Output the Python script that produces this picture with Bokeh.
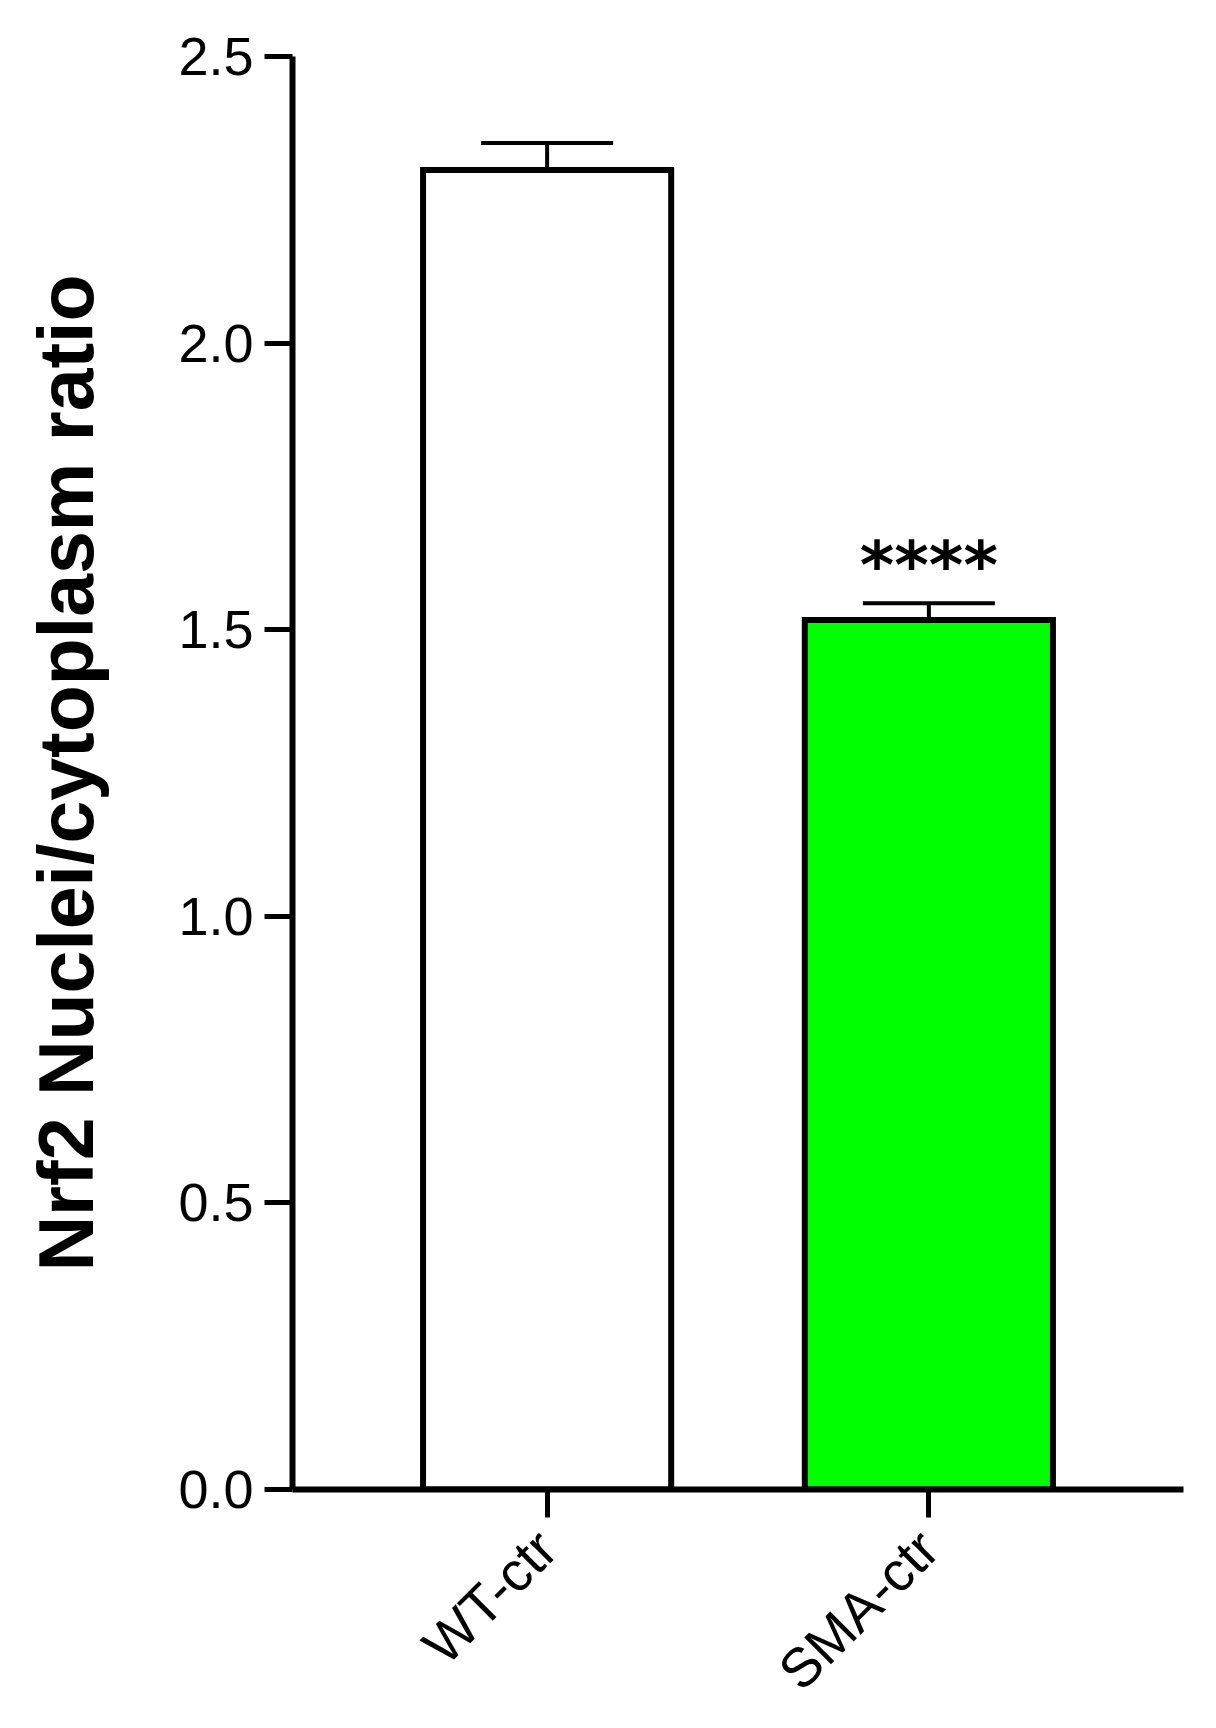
import math
from bokeh.plotting import figure
from bokeh.models import (ColumnDataSource, FactorRange, Range1d, FixedTicker,
                          Whisker, TeeHead, PrintfTickFormatter)
from bokeh.core.properties import value
from bokeh.embed import file_html
from bokeh.resources import INLINE

# ---- data ----
categories = ["WT-ctr", "SMA-ctr"]
means = [2.302, 1.517]
errors = [0.047, 0.029]
bar_colors = ["#FFFFFF", "#00FF00"]
significance = ["", "****"]
y_ticks = [0.0, 0.5, 1.0, 1.5, 2.0, 2.5]
y_label = "Nrf2 Nuclei/cytoplasm ratio"

upper = [m + e for m, e in zip(means, errors)]
star_offset = 0.066
star_y = [u + star_offset for u in upper]

src = ColumnDataSource(dict(cat=categories, mean=means, upper=upper,
                            color=bar_colors, sig=significance, sy=star_y))

p = figure(width=1200, height=1728,
           x_range=FactorRange(*categories, range_padding=0.167,
                               range_padding_units="absolute"),
           y_range=Range1d(0, 2.5),
           output_backend="svg", toolbar_location=None,
           min_border_left=292, min_border_right=17,
           min_border_top=56, min_border_bottom=239)

p.outline_line_color = None
p.xgrid.grid_line_color = None
p.ygrid.grid_line_color = None
p.background_fill_color = "white"
p.border_fill_color = "white"

# error bars (upper only)
wh = Whisker(base="cat", lower="mean", upper="upper", source=src,
             line_color="black", line_width=4,
             upper_head=TeeHead(size=132, line_width=4, line_color="black"),
             lower_head=None)
p.add_layout(wh)

# bars
p.vbar(x="cat", top="mean", bottom=0, width=0.65, source=src,
       fill_color="color", line_color="black", line_width=6,
       line_join="miter")

# significance stars
p.text(x="cat", y="sy", text="sig", source=src,
       text_font=value("DejaVu Sans"), text_font_style="bold",
       text_font_size="66px", text_align="center", text_baseline="middle",
       text_color="black")

# y axis
ya = p.yaxis[0]
ya.ticker = FixedTicker(ticks=y_ticks)
ya.formatter = PrintfTickFormatter(format="%.1f")
ya.axis_line_width = 6
ya.axis_line_color = "black"
ya.major_tick_line_width = 5
ya.major_tick_in = 0
ya.major_tick_out = 28
ya.minor_tick_line_color = None
ya.major_label_standoff = 11
ya.major_label_text_font = "Liberation Sans"
ya.major_label_text_font_size = "54px"
ya.major_label_text_color = "black"
ya.axis_label = y_label
ya.axis_label_text_font = "Liberation Sans"
ya.axis_label_text_font_style = "bold"
ya.axis_label_text_font_size = "77px"
ya.axis_label_text_color = "black"
ya.axis_label_standoff = 66

# x axis
xa = p.xaxis[0]
xa.axis_line_width = 6
xa.axis_line_color = "black"
xa.major_tick_line_width = 5
xa.major_tick_in = 0
xa.major_tick_out = 28
xa.minor_tick_line_color = None
xa.major_label_standoff = 22
xa.major_label_orientation = math.pi / 4
xa.major_label_text_font = "Liberation Sans"
xa.major_label_text_font_size = "55px"
xa.major_label_text_color = "black"

open("out.html", "w").write(file_html(p, INLINE))
